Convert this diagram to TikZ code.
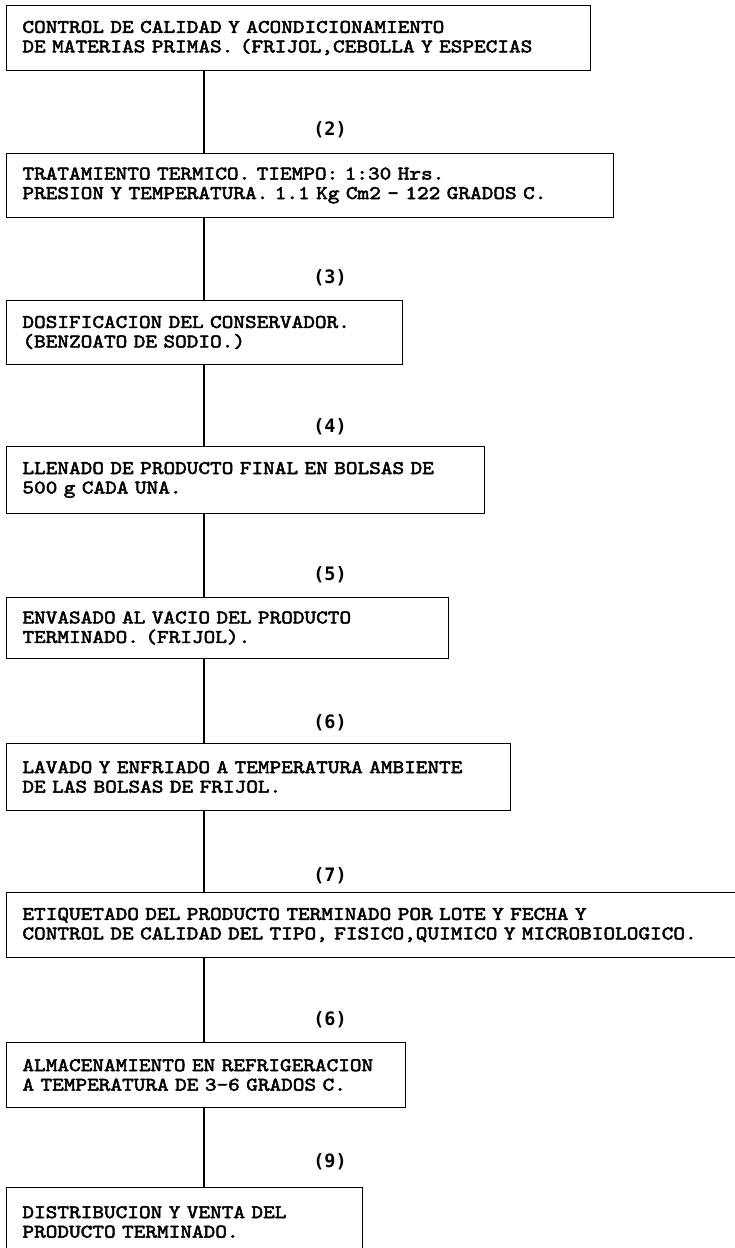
\documentclass[tikz,border=0pt]{standalone}
\usepackage{fontspec}
\newfontfamily\boxfont[FakeBold=2.6,FakeStretch=1.15]{lmmono10-regular.otf}
\newfontfamily\numfont{DejaVu Sans Mono}
\usetikzlibrary{positioning}

\begin{document}
\begin{tikzpicture}[
  x=1pt, y=-1pt,
  stage/.style={rectangle, draw, line width=0.9pt, anchor=north west, inner xsep=16pt, inner ysep=0pt, align=left, font={\boxfont\fontsize{19.3}{19.5}\selectfont}},
  lbl/.style={font={\numfont\fontsize{18.5}{18.5}\selectfont\bfseries}},
  link/.style={line width=1.4pt}
]
\useasboundingbox (0,0) rectangle (735,1248);

\coordinate (spine) at (204,0);

\node[stage, text width=552pt, minimum height=65pt] (b1) at (6,5) {CONTROL DE CALIDAD Y ACONDICIONAMIENTO\\DE MATERIAS PRIMAS. (FRIJOL,CEBOLLA Y ESPECIAS};
\node[stage, text width=575pt, minimum height=64pt] (b2) at (6,153) {TRATAMIENTO TERMICO. TIEMPO: 1:30 Hrs.\\PRESION Y TEMPERATURA. 1.1 Kg Cm2 - 122 GRADOS C.};
\node[stage, text width=364pt, minimum height=64pt] (b3) at (6,300) {DOSIFICACION DEL CONSERVADOR.\\(BENZOATO DE SODIO.)};
\node[stage, text width=446pt, minimum height=67pt] (b4) at (6,446) {LLENADO DE PRODUCTO FINAL EN BOLSAS DE\\500 g CADA UNA.};
\node[stage, text width=410pt, minimum height=61pt] (b5) at (6,597) {ENVASADO AL VACIO DEL PRODUCTO\\TERMINADO. (FRIJOL).};
\node[stage, text width=472pt, minimum height=67pt] (b6) at (6,743) {LAVADO Y ENFRIADO A TEMPERATURA AMBIENTE\\DE LAS BOLSAS DE FRIJOL.};
\node[stage, text width=720pt, minimum height=65pt] (b7) at (6,892) {ETIQUETADO DEL PRODUCTO TERMINADO POR LOTE Y FECHA Y\\CONTROL DE CALIDAD DEL TIPO, FISICO,QUIMICO Y MICROBIOLOGICO.};
\node[stage, text width=367pt, minimum height=65pt] (b8) at (6,1042) {ALMACENAMIENTO EN REFRIGERACION\\A TEMPERATURA DE 3-6 GRADOS C.};
\node[stage, text width=324pt, minimum height=69pt] (b9) at (6,1187) {DISTRIBUCION Y VENTA DEL\\PRODUCTO TERMINADO.};

\node[lbl] (n2) at (330,130) {(2)};
\node[lbl] (n3) at (330,278) {(3)};
\node[lbl] (n4) at (330,427) {(4)};
\node[lbl] (n5) at (330,575) {(5)};
\node[lbl] (n6) at (330,723) {(6)};
\node[lbl] (n7) at (330,876) {(7)};
\node[lbl] (n8) at (330,1020) {(6)};
\node[lbl] (n9) at (330,1162) {(9)};

\draw[link] (b1.south -| spine) -- (b2.north -| spine);
\draw[link] (b2.south -| spine) -- (b3.north -| spine);
\draw[link] (b3.south -| spine) -- (b4.north -| spine);
\draw[link] (b4.south -| spine) -- (b5.north -| spine);
\draw[link] (b5.south -| spine) -- (b6.north -| spine);
\draw[link] (b6.south -| spine) -- (b7.north -| spine);
\draw[link] (b7.south -| spine) -- (b8.north -| spine);
\draw[link] (b8.south -| spine) -- (b9.north -| spine);
\end{tikzpicture}
\end{document}
